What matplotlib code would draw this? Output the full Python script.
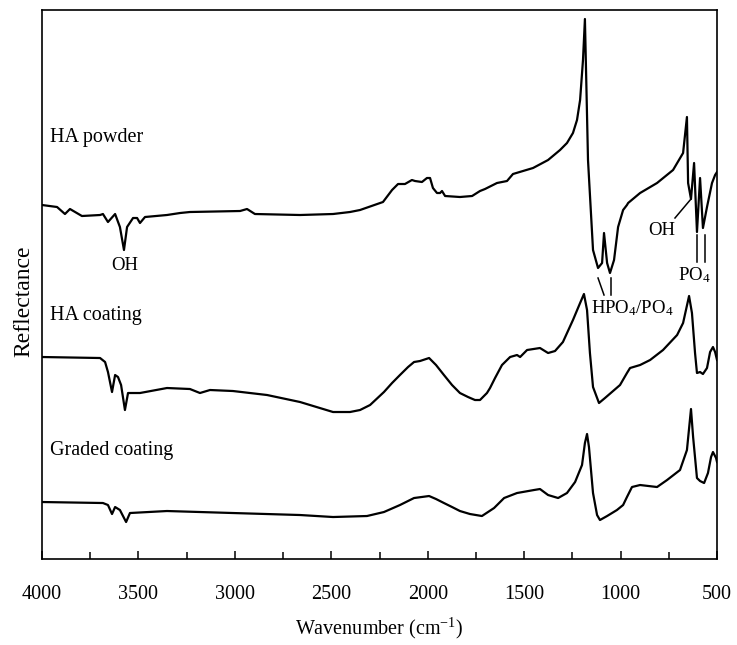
import matplotlib
matplotlib.use("Agg")
import matplotlib.pyplot as plt
from matplotlib.ticker import MultipleLocator

plt.rcParams["font.family"] = ["Liberation Serif", "DejaVu Serif"]
plt.rcParams["mathtext.default"] = "regular"

# FTIR reflectance spectra, wavenumber in cm-1, reflectance in arbitrary offset units
ha_powder_wn = [4000, 3922, 3881, 3855, 3793, 3699, 3684, 3658, 3621, 3596, 3575, 3559,
                3528, 3507, 3492, 3466, 3352, 3284, 3233, 2973, 2937, 2896, 2662, 2491,
                2403, 2351, 2232, 2185, 2154, 2118, 2082, 2066, 2030, 2004, 1988, 1973,
                1952, 1936, 1926, 1910, 1833, 1770, 1729, 1703, 1641, 1589, 1558, 1454,
                1376, 1314, 1278, 1247, 1226, 1210, 1195, 1185, 1169, 1143, 1117, 1096,
                1086, 1070, 1055, 1034, 1013, 987, 967, 961, 899, 811, 728, 676, 656,
                650, 635, 619, 604, 588, 573, 552, 526, 510, 500]
ha_powder = [354, 352, 345, 350, 343, 344, 345, 337, 345, 332, 309, 332,
             341, 341, 336, 342, 344, 346, 347, 348, 350, 345, 344, 345,
             347, 349, 357, 369, 375, 375, 379, 378, 377, 381, 381, 371,
             366, 366, 368, 363, 362, 363, 368, 370, 376, 378, 385, 391,
             399, 409, 416, 426, 439, 459, 499, 540, 399, 309, 291, 296,
             326, 296, 286, 299, 332, 349, 354, 356, 366, 376, 389, 406, 442,
             376, 360, 396, 327, 381, 331, 352, 376, 384, 387]

ha_coating_wn = [4000, 3699, 3673, 3658, 3637, 3621, 3606, 3590, 3570, 3554, 3492, 3352,
                 3233, 3181, 3129, 3010, 2833, 2662, 2491, 2403, 2351, 2299, 2227, 2185,
                 2144, 2102, 2071, 2040, 1993, 1957, 1916, 1874, 1833, 1791, 1755, 1729,
                 1693, 1677, 1651, 1615, 1573, 1537, 1521, 1485, 1418, 1376, 1340, 1299,
                 1247, 1210, 1190, 1174, 1159, 1143, 1112, 1081, 1003, 967, 951, 899,
                 847, 780, 707, 676, 645, 630, 614, 604, 588, 573, 552, 536, 521, 510, 500]
ha_coating = [202, 201, 197, 187, 167, 184, 182, 174, 149, 166, 166, 171,
              170, 166, 169, 168, 164, 157, 147, 147, 149, 154, 167, 176,
              184, 192, 197, 198, 201, 194, 184, 174, 166, 162, 159, 159,
              166, 171, 181, 194, 202, 204, 202, 209, 211, 206, 208, 217,
              239, 256, 265, 249, 206, 172, 156, 161, 174, 186, 191, 194,
              199, 209, 224, 236, 263, 246, 206, 186, 187, 185, 191, 207, 212, 207, 199]

graded_wn = [4000, 3684, 3658, 3637, 3621, 3596, 3564, 3544, 3352, 3010, 2662, 2491,
             2315, 2227, 2144, 2071, 1993, 1957, 1916, 1874, 1833, 1781, 1719, 1656,
             1604, 1537, 1449, 1418, 1376, 1324, 1278, 1236, 1200, 1185, 1174, 1164,
             1143, 1122, 1107, 1070, 1019, 987, 967, 941, 899, 811, 759, 692, 656,
             635, 624, 604, 588, 567, 547, 531, 521, 505, 500]
graded = [57, 56, 54, 45, 52, 49, 37, 46, 48, 46, 44, 42,
          43, 47, 54, 61, 63, 60, 56, 52, 48, 45, 43, 51,
          61, 66, 69, 70, 64, 61, 66, 77, 94, 116, 125, 112,
          66, 44, 39, 43, 49, 54, 62, 72, 74, 72, 79, 89, 109,
          150, 122, 81, 78, 76, 86, 102, 107, 101, 97]

# curve names: (text, wavenumber, baseline height)
curve_names = [("HA powder", 3958, 417),
               ("HA coating", 3958, 239),
               ("Graded coating", 3958, 104)]

# band assignments: (text, wavenumber, baseline height)
band_labels = [("OH", 3570, 289),
               ("HPO$_4$/PO$_4$", 941, 246),
               ("OH", 785, 324),
               ("PO$_4$", 619, 279)]

# pointer lines to the bands: ((wn0, y0), (wn1, y1))
band_pointers = [((1117, 281), (1086, 264)),
                 ((1050, 281), (1050, 264)),
                 ((718, 341), (635, 360)),
                 ((604, 324), (604, 297)),
                 ((562, 324), (562, 297))]

fig = plt.figure(figsize=(7.37, 6.45), dpi=100)
ax = fig.add_axes([0.057, 0.1333, 0.9159, 0.8512])

for wn, refl in [(ha_powder_wn, ha_powder), (ha_coating_wn, ha_coating), (graded_wn, graded)]:
    ax.plot(wn, refl, color="black", lw=1.6, solid_joinstyle="round")

for text, wn, y in curve_names:
    ax.text(wn, y, text, fontsize=14.5, ha="left", va="baseline")

for text, wn, y in band_labels:
    ax.text(wn, y, text, fontsize=13.5, ha="center", va="baseline")

for (x0, y0), (x1, y1) in band_pointers:
    ax.plot([x0, x1], [y0, y1], color="black", lw=1.1)

ax.set_xlim(4000, 500)
ax.set_ylim(0, 549)
ax.xaxis.set_major_locator(MultipleLocator(500))
ax.xaxis.set_minor_locator(MultipleLocator(250))
ax.set_yticks([])
ax.tick_params(axis="x", which="major", direction="in", length=6, width=1.1,
               labelsize=14.5, pad=19, top=False)
ax.tick_params(axis="x", which="minor", direction="in", length=5, width=1.1, top=False)
for sp in ax.spines.values():
    sp.set_linewidth(1.2)

ax.set_xlabel("Wavenumber (cm$^{-1}$)", fontsize=14.5)
ax.xaxis.set_label_coords(0.5, -0.103)
ax.set_ylabel("Reflectance", fontsize=17)
ax.yaxis.set_label_coords(-0.012, 0.47)

fig.savefig("out.png", dpi=100)
